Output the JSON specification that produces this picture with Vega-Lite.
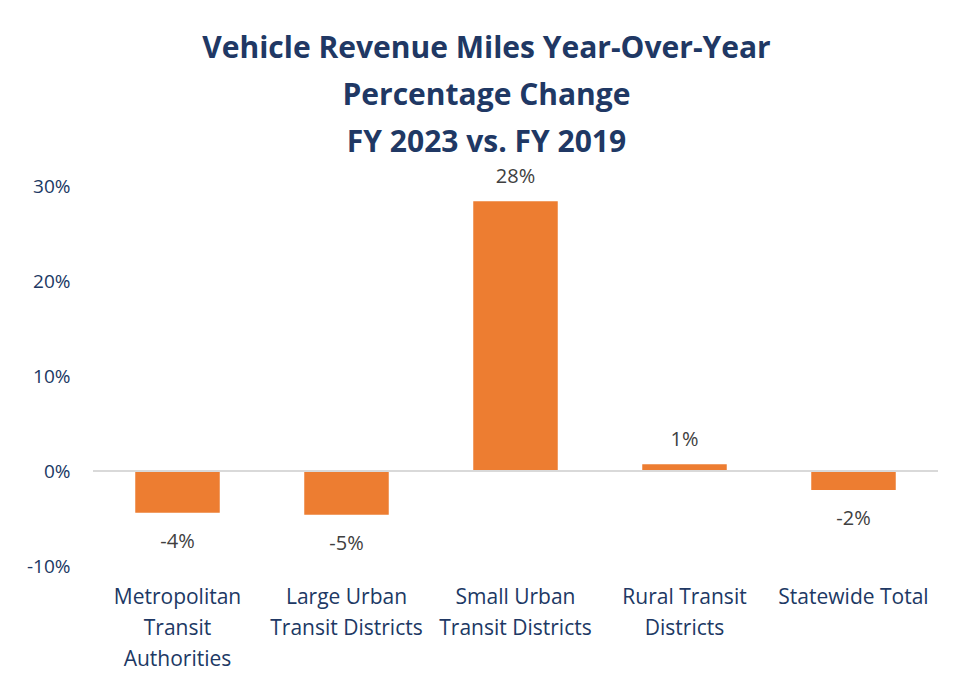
{
  "$schema": "https://vega.github.io/schema/vega-lite/v6.json",
  "width": 845,
  "height": 380,
  "autosize": "none",
  "padding": {"left": 93, "top": 186, "right": 16, "bottom": 113},
  "background": "white",
  "config": {"view": {"stroke": null}, "font": "Lato"},
  "title": {
    "text": ["Vehicle Revenue Miles Year-Over-Year", "Percentage Change", "FY 2023 vs. FY 2019"],
    "font": "Open Sans",
    "fontSize": 30,
    "fontWeight": "bold",
    "color": "#203864",
    "lineHeight": 47,
    "anchor": "middle",
    "dx": -29,
    "offset": 9
  },
  "data": {
    "values": [
      {"category": "Metropolitan Transit Authorities", "change": -4.4},
      {"category": "Large Urban Transit Districts", "change": -4.6},
      {"category": "Small Urban Transit Districts", "change": 28.4},
      {"category": "Rural Transit Districts", "change": 0.7},
      {"category": "Statewide Total", "change": -2.0}
    ]
  },
  "encoding": {
    "x": {
      "field": "category",
      "type": "nominal",
      "sort": null,
      "scale": {"paddingInner": 0.5, "paddingOuter": 0.25},
      "axis": {
        "title": null,
        "domain": false,
        "ticks": false,
        "labelAngle": 0,
        "labelFont": "Open Sans",
        "labelFontSize": 21,
        "labelColor": "#203864",
        "labelPadding": 20,
        "labelLineHeight": 31,
        "labelBaseline": "top",
        "labelLimit": 300,
        "labelExpr": "datum.label == 'Metropolitan Transit Authorities' ? ['Metropolitan', 'Transit', 'Authorities'] : datum.label == 'Large Urban Transit Districts' ? ['Large Urban', 'Transit Districts'] : datum.label == 'Small Urban Transit Districts' ? ['Small Urban', 'Transit Districts'] : datum.label == 'Rural Transit Districts' ? ['Rural Transit', 'Districts'] : datum.label"
      }
    }
  },
  "layer": [
    {
      "mark": {"type": "bar", "color": "#ED7D31"},
      "encoding": {
        "y": {
          "field": "change",
          "type": "quantitative",
          "scale": {"domain": [-10, 30], "nice": false},
          "axis": {
            "title": null,
            "domain": false,
            "ticks": false,
            "grid": false,
            "values": [-10, 0, 10, 20, 30],
            "labelExpr": "datum.value + '%'",
            "labelFont": "Open Sans",
            "labelFontSize": 19,
            "labelColor": "#203864",
            "labelPadding": 23
          }
        }
      }
    },
    {
      "mark": {"type": "rule", "color": "#D9D9D9", "strokeWidth": 2},
      "encoding": {"y": {"datum": 0}, "x": {"value": 0}, "x2": {"value": 845}}
    },
    {
      "transform": [{"filter": "datum.change >= 0"}],
      "mark": {"type": "text", "baseline": "bottom", "dy": -14, "fontSize": 20, "color": "#404040", "font": "Open Sans", "text": {"expr": "toString(round(datum.change)) + '%'"}},
      "encoding": {
        "y": {"field": "change", "type": "quantitative"}
      }
    },
    {
      "transform": [{"filter": "datum.change < 0"}],
      "mark": {"type": "text", "baseline": "top", "dy": 19, "fontSize": 20, "color": "#404040", "font": "Open Sans", "text": {"expr": "toString(round(datum.change)) + '%'"}},
      "encoding": {
        "y": {"field": "change", "type": "quantitative"}
      }
    }
  ]
}
